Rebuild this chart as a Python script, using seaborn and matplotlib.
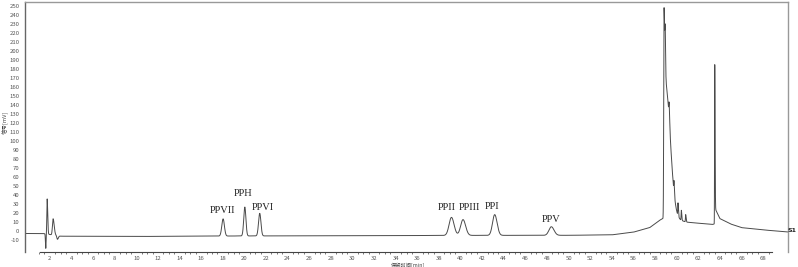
import numpy as np
import pandas as pd
import matplotlib
matplotlib.use("Agg")
import matplotlib.pyplot as plt
import seaborn as sns

# ---- data ----
baseline_t = [0.0, 1.4, 3.0, 10.0, 20.0, 30.0, 40.0, 50.0, 54.0, 56.0, 57.5, 58.4, 58.7,
              59.9, 61.0, 63.3, 63.48, 63.56, 64.0, 65.0, 66.0, 68.0, 70.5]
baseline_v = [-2.5, -2.5, -5.5, -5.8, -5.2, -5.0, -4.6, -4.5, -4.0, -1.0, 4.0, 12.0, 14.0,
              13.0, 10.0, 7.5, 8.0, 25.0, 14.0, 8.0, 4.0, 1.5, -1.0]

peak_t      = [1.62, 1.75, 2.30, 2.70, 18.03, 20.04, 21.42, 39.16, 40.23, 43.16, 48.40,
               58.83, 58.95, 59.30, 59.75, 60.12, 60.43, 60.83, 63.52]
peak_h      = [-16.0, 39.0, 18.0, -4.0, 19.0, 32.0, 25.0, 20.0, 17.5, 23.0, 9.5,
               232.0, 150.0, 18.0, 12.0, 14.0, 11.0, 8.0, 168.0]
peak_sig_l  = [0.03, 0.03, 0.06, 0.05, 0.12, 0.10, 0.11, 0.22, 0.22, 0.20, 0.22,
               0.03, 0.04, 0.03, 0.02, 0.02, 0.02, 0.02, 0.015]
peak_sig_r  = [0.03, 0.05, 0.10, 0.08, 0.12, 0.10, 0.11, 0.24, 0.24, 0.22, 0.25,
               0.07, 0.45, 0.05, 0.04, 0.04, 0.04, 0.04, 0.03]

label_names = ["PPVII", "PPH", "PPVI", "PPII", "PPIII", "PPI", "PPV"]
label_t     = [17.97, 19.85, 21.70, 38.70, 40.79, 42.95, 48.40]
label_v     = [23.3, 41.9, 26.7, 25.9, 25.9, 27.0, 13.3]

x_ticks = list(range(2, 70, 2))
y_ticks = list(range(-10, 260, 10))

# ---- build trace ----
t = np.linspace(-0.3, 70.3, 14000)
sig = np.interp(t, baseline_t, baseline_v)
for c, h, sl, sr in zip(peak_t, peak_h, peak_sig_l, peak_sig_r):
    s = np.where(t < c, sl, sr)
    sig = sig + h * np.exp(-0.5 * ((t - c) / s) ** 2)
df = pd.DataFrame({"time": t, "signal": sig})

sns.set_style("white")
plt.rcParams["font.family"] = ["Noto Sans CJK SC", "DejaVu Sans"]

fig = plt.figure(figsize=(7.98, 2.67), dpi=100)
ax = fig.add_axes([25 / 798, 15 / 267, 763 / 798, 250 / 267])
sns.lineplot(data=df, x="time", y="signal", ax=ax, color="#4a4a4a", linewidth=0.7)

ax.set_xlim(-0.3, 70.3)
ax.set_ylim(-23, 254)
ax.set_xticks(x_ticks)
ax.set_xticklabels([str(v) for v in x_ticks])
ax.set_yticks(y_ticks)
ax.set_yticklabels([str(v) for v in y_ticks])
ax.set_xticks(np.arange(1.0, 69.0, 0.5), minor=True)
ax.tick_params(axis="x", which="major", length=2.0, width=0.6, color="#444",
               labelsize=4.3, labelcolor="#555", pad=1.2, direction="out")
ax.tick_params(axis="x", which="minor", length=1.3, width=0.5, color="#444", bottom=True)
ax.tick_params(axis="y", length=0, labelsize=4.3, labelcolor="#555", pad=4)

for name in ["left", "right", "top", "bottom"]:
    ax.spines[name].set_color("#999")
    ax.spines[name].set_linewidth(1.0)
ax.spines["left"].set_color("#666")
ax.spines["bottom"].set_color("#444")
ax.spines["bottom"].set_linewidth(0.8)
ax.spines["bottom"].set_bounds(1.07, 68.8)

ax.set_xlabel("保留时间[min]", fontsize=3.8, color="#444")
ax.xaxis.set_label_coords(0.502, -0.04)
ax.set_ylabel("信号[mV]", fontsize=4.0, color="#444")
ax.yaxis.set_label_coords(-0.021, 0.52)

for n, lt, lv in zip(label_names, label_t, label_v):
    ax.text(lt, lv, n, family=["Liberation Serif", "DejaVu Serif"], fontsize=7.5,
            ha="center", va="center", color="#222")

ax.text(0.999, 0.085, "S1", transform=ax.transAxes, fontsize=4.5, fontweight="bold",
        ha="left", va="center", color="#222", family=["DejaVu Sans"])

fig.savefig("out.png", dpi=100)
